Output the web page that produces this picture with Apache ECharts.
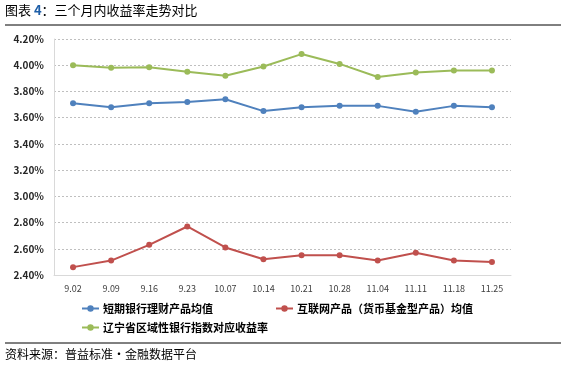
<!DOCTYPE html>
<html><head><meta charset="utf-8">
<script src="https://cdn.jsdelivr.net/npm/echarts@6/dist/echarts.min.js"></script>
<style>html,body{margin:0;padding:0;background:#fff}#c{width:566px;height:373px}</style>
</head><body><div id="c"></div>
<script>
var categories = ['9.02','9.09','9.16','9.23','10.07','10.14','10.21','10.28','11.04','11.11','11.18','11.25'];
var bankShort = [3.71,3.68,3.71,3.72,3.74,3.65,3.68,3.69,3.69,3.645,3.69,3.68];
var internet = [2.46,2.51,2.63,2.77,2.61,2.52,2.55,2.55,2.51,2.57,2.51,2.50];
var liaoning = [4.00,3.98,3.985,3.95,3.92,3.99,4.085,4.01,3.91,3.945,3.96,3.96];
var names = ['短期银行理财产品均值','互联网产品（货币基金型产品）均值','辽宁省区域性银行指数对应收益率'];
var colors = ['#4f81bd','#c0504d','#9bbb59'];
var font = '"Noto Sans CJK SC", "Noto Sans", sans-serif';
var chart = echarts.init(document.getElementById('c'));
function mk(i, d){
  return {name:names[i], type:'line', data:d, symbol:'circle', symbolSize:6,
    lineStyle:{width:2,color:colors[i]}, itemStyle:{color:colors[i]}, z:3};
}
chart.setOption({
  animation:false,
  textStyle:{fontFamily:font},
  grid:{left:54,right:55,top:39,bottom:98},
  graphic:[
    {type:'text',left:5,top:4,style:{text:'{a|图表 }{b|4}{a|：三个月内收益率走势对比}',rich:{a:{fontSize:13,fill:'#000',fontFamily:font},b:{fontSize:13,fill:'#1f5fa8',fontFamily:font,fontWeight:'bold'}}}},
    {type:'line',shape:{x1:5,y1:25,x2:561,y2:25},style:{stroke:'#000',lineWidth:1}},
    {type:'line',shape:{x1:5,y1:343,x2:561,y2:343},style:{stroke:'#000',lineWidth:1}},
    {type:'text',left:5,top:348,style:{text:'资料来源：普益标准・金融数据平台',fontSize:12,fill:'#000',fontFamily:font}}
  ],
  legend:[
    {data:[names[0],names[1]],left:76,top:298,itemWidth:17,itemHeight:8,itemGap:62,
     textStyle:{fontSize:11,fontWeight:'bold',color:'#000',fontFamily:font,padding:[0,0,0,-1]}},
    {data:[names[2]],left:76,top:317,itemWidth:17,itemHeight:8,
     textStyle:{fontSize:11,fontWeight:'bold',color:'#000',fontFamily:font,padding:[0,0,0,-1]}}
  ],
  xAxis:{type:'category',data:categories,boundaryGap:true,
    axisLine:{lineStyle:{color:'#d9d9d9',width:1}},axisTick:{show:false},
    axisLabel:{fontSize:9,color:'#404040',margin:9,fontFamily:font}},
  yAxis:{type:'value',min:2.4,max:4.2,interval:0.2,
    axisLine:{show:true,lineStyle:{color:'#d9d9d9'}},axisTick:{show:false},
    splitLine:{lineStyle:{type:[2,2],color:'#bfbfbf'}},
    axisLabel:{fontSize:10,fontWeight:'bold',color:'#262626',margin:10,fontFamily:font,
      formatter:function(v){return v.toFixed(2)+'%';}}},
  series:[mk(0,bankShort),mk(1,internet),mk(2,liaoning)]
});
</script></body></html>
